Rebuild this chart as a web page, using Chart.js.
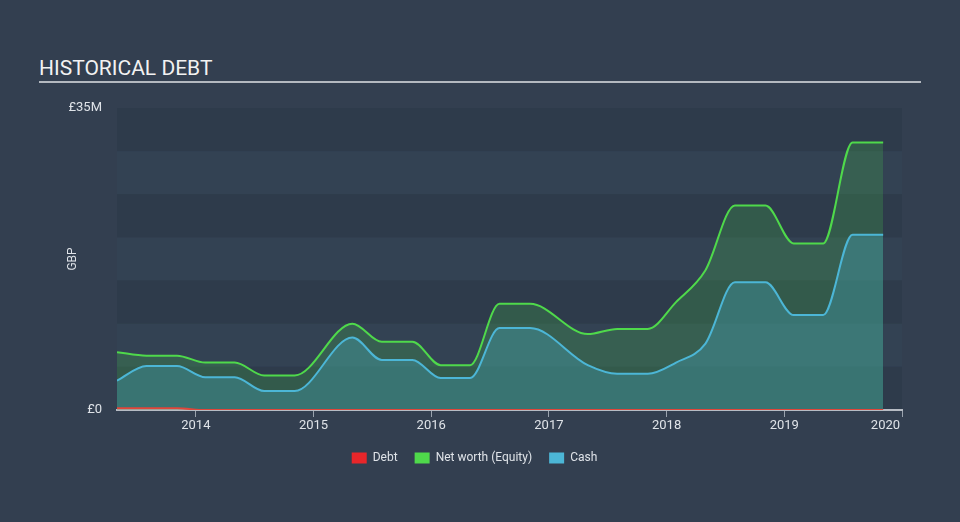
<!DOCTYPE html>
<html>
<head>
<meta charset="utf-8">
<script src="https://cdn.jsdelivr.net/npm/chart.js@4"></script>
<style>
  html, body { margin: 0; padding: 0; background: #333f50; }
  #wrap { position: relative; width: 960px; height: 522px; background: #333f50; overflow: hidden; }
  #title { position: absolute; left: 39px; top: 56px; font-family: Roboto, sans-serif; font-size: 21px; color: #f2f2f2; }
  #rule { position: absolute; left: 39px; top: 81px; width: 882px; height: 2px; background: #b4b9c0; }
  canvas { position: absolute; left: 0; top: 0; }
</style>
</head>
<body>
<div id="wrap">
  <div id="title">HISTORICAL DEBT</div>
  <div id="rule"></div>
  <canvas id="c" width="960" height="522"></canvas>
</div>
<script>
// Dates as decimal years
const dates = [2013.33, 2013.58, 2013.84, 2014.08, 2014.33, 2014.58, 2014.84, 2015.33, 2015.58, 2015.84, 2016.08, 2016.33, 2016.58, 2016.84, 2017.33, 2017.58, 2017.84, 2018.08, 2018.33, 2018.58, 2018.84, 2019.08, 2019.33, 2019.58, 2019.84];
// Values in £ millions
const debt     = [0.2, 0.2, 0.2, 0, 0, 0, 0, 0, 0, 0, 0, 0, 0, 0, 0, 0, 0, 0, 0, 0, 0, 0, 0, 0, 0];
const netWorth = [6.7, 6.3, 6.3, 5.5, 5.5, 4.0, 4.0, 10.0, 7.9, 7.9, 5.2, 5.2, 12.3, 12.3, 8.8, 9.4, 9.4, 12.5, 16.2, 23.7, 23.7, 19.3, 19.3, 31.0, 31.0];
const cash     = [3.4, 5.1, 5.1, 3.8, 3.8, 2.2, 2.2, 8.4, 5.8, 5.8, 3.7, 3.7, 9.5, 9.5, 5.2, 4.2, 4.2, 5.5, 7.7, 14.8, 14.8, 11.0, 11.0, 20.3, 20.3];
const yearTicks = [2014, 2015, 2016, 2017, 2018, 2019, 2020];
const yTickValues = [0, 35];
const yMax = 35;
const bandStep = 5;

const pts = arr => dates.map((d, i) => ({ x: d, y: arr[i] }));

const bandPlugin = {
  id: 'bands',
  beforeDraw(chart) {
    const { ctx, chartArea, scales } = chart;
    const y = scales.y;
    ctx.save();
    let k = 0;
    for (let v = yMax; v > 0; v -= bandStep) {
      const top = y.getPixelForValue(v);
      const bot = y.getPixelForValue(v - bandStep);
      ctx.fillStyle = (k % 2 === 0) ? '#2e3b4b' : '#334253';
      ctx.fillRect(chartArea.left, top, chartArea.right - chartArea.left, bot - top);
      k++;
    }
    ctx.restore();
  }
};

Chart.defaults.font.family = 'Roboto, sans-serif';

new Chart(document.getElementById('c'), {
  type: 'line',
  data: {
    datasets: [
      {
        label: 'Debt',
        data: pts(debt),
        borderColor: '#e0463a',
        backgroundColor: '#e8262a',
        borderWidth: 2,
        fill: false,
        pointRadius: 0,
        cubicInterpolationMode: 'monotone',
        order: 1
      },
      {
        label: 'Net worth (Equity)',
        data: pts(netWorth),
        borderColor: '#4fd94b',
        backgroundColor: 'rgba(76,217,76,0.2)',
        borderWidth: 2,
        fill: 'origin',
        pointRadius: 0,
        cubicInterpolationMode: 'monotone',
        order: 3
      },
      {
        label: 'Cash',
        data: pts(cash),
        borderColor: '#4cb6d6',
        backgroundColor: 'rgba(74,184,216,0.28)',
        borderWidth: 2,
        fill: 'origin',
        pointRadius: 0,
        cubicInterpolationMode: 'monotone',
        order: 2
      }
    ]
  },
  options: {
    responsive: false,
    animation: false,
    layout: { padding: { top: 108, right: 58, left: 47, bottom: 48 } },
    plugins: {
      tooltip: { enabled: false },
      legend: {
        position: 'bottom',
        labels: {
          color: '#dfe3e8',
          font: { size: 12 },
          boxWidth: 15,
          boxHeight: 11,
          padding: 17,
          generateLabels(chart) {
            return chart.data.datasets.map((ds, i) => ({
              text: ds.label,
              fillStyle: i === 0 ? '#e8262a' : (i === 1 ? '#4fd94b' : '#4cb6d6'),
              strokeStyle: 'rgba(0,0,0,0)',
              lineWidth: 0,
              fontColor: '#dfe3e8',
              datasetIndex: i,
              hidden: false
            }));
          }
        }
      }
    },
    scales: {
      x: {
        type: 'linear',
        min: 2013.33,
        max: 2020,
        afterBuildTicks(scale) { scale.ticks = yearTicks.map(v => ({ value: v })); },
        afterFit(scale) { scale.height = 25; },
        ticks: {
          color: '#dfe3e8',
          font: { size: 13 },
          padding: 1,
          maxRotation: 0,
          callback: v => v === 2020 ? String(v) + '\u2002'.repeat(5) : String(v)
        },
        grid: { drawOnChartArea: false, drawTicks: true, tickLength: 7, color: '#9aa3ae', lineWidth: 1 },
        border: { display: true, color: '#b7bcc4', width: 2 }
      },
      y: {
        min: 0,
        max: yMax,
        afterBuildTicks(scale) { scale.ticks = yTickValues.map(v => ({ value: v })); },
        afterFit(scale) { scale.width = 70; },
        title: { display: true, text: 'GBP', color: '#dfe3e8', font: { size: 12 }, padding: { top: 19, bottom: 0 } },
        ticks: {
          color: '#dfe3e8',
          font: { size: 13 },
          padding: 7,
          callback: v => v === 0 ? '£0' : '£' + v + 'M'
        },
        grid: { display: false },
        border: { display: false }
      }
    }
  },
  plugins: [bandPlugin]
});
</script>
</body>
</html>
